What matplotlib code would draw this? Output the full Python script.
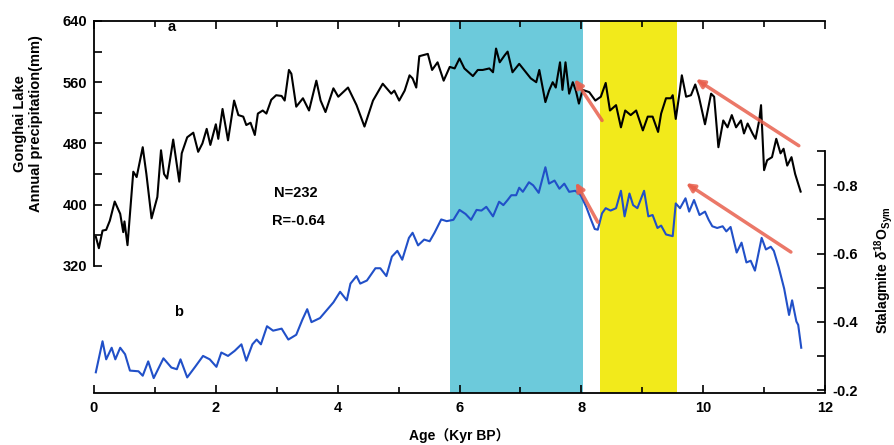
import matplotlib
matplotlib.use('Agg')
import matplotlib.pyplot as plt
from matplotlib.ticker import MultipleLocator, FixedLocator

plt.rcParams['font.family'] = ['Liberation Sans', 'Noto Sans CJK SC', 'DejaVu Sans']
plt.rcParams['font.weight'] = 'bold'
plt.rcParams['mathtext.fontset'] = 'custom'
plt.rcParams['mathtext.rm'] = 'Liberation Sans:bold'
plt.rcParams['mathtext.it'] = 'Liberation Sans:italic:bold'

# Gonghai Lake annual precipitation (mm) vs age (kyr BP)
precip_age = [0.03, 0.08, 0.14, 0.20, 0.26, 0.34, 0.43, 0.48, 0.50, 0.55, 0.645, 0.70, 0.80, 0.86,
              0.945, 1.04, 1.10, 1.15, 1.20, 1.30, 1.40, 1.44, 1.53, 1.63, 1.71, 1.78, 1.85, 1.91,
              2.00, 2.04, 2.11, 2.20, 2.30, 2.37, 2.45, 2.50, 2.57, 2.64, 2.69, 2.77, 2.83, 2.91,
              2.99, 3.08, 3.13, 3.20, 3.24, 3.32, 3.43, 3.53, 3.65, 3.72, 3.80, 3.93, 4.01, 4.17,
              4.31, 4.44, 4.58, 4.74, 4.88, 4.93, 5.01, 5.10, 5.18, 5.23, 5.29, 5.34, 5.48, 5.55,
              5.64, 5.74, 5.84, 5.92, 6.00, 6.08, 6.22, 6.30, 6.38, 6.49, 6.55, 6.60, 6.66, 6.74,
              6.79, 6.87, 6.98, 7.06, 7.17, 7.26, 7.31, 7.41, 7.47, 7.53, 7.58, 7.65, 7.69, 7.74,
              7.80, 7.86, 7.91, 7.96, 8.02, 8.13, 8.23, 8.32, 8.40, 8.47, 8.57, 8.65, 8.72, 8.81,
              8.90, 9.01, 9.09, 9.17, 9.26, 9.31, 9.39, 9.47, 9.50, 9.55, 9.61, 9.65, 9.72, 9.80,
              9.87, 9.93, 10.03, 10.13, 10.18, 10.25, 10.33, 10.40, 10.47, 10.54, 10.62, 10.67,
              10.73, 10.81, 10.86, 10.92, 10.95, 11.00, 11.05, 11.13, 11.20, 11.27, 11.32, 11.38,
              11.45, 11.51, 11.60]
precip = [358, 343, 366, 367, 379, 404, 388, 364, 378, 347, 443, 436, 475, 440,
          382, 410, 471, 440, 434, 485, 430, 467, 488, 494, 469, 480, 499, 478,
          505, 486, 525, 484, 536, 517, 515, 504, 507, 491, 519, 523, 519, 537,
          543, 542, 536, 576, 571, 528, 539, 523, 562, 536, 521, 552, 541, 553,
          530, 502, 536, 558, 545, 549, 536, 549, 569, 565, 553, 594, 597, 576,
          586, 562, 580, 578, 591, 578, 568, 576, 576, 578, 573, 604, 586, 595,
          600, 573, 584, 576, 565, 560, 576, 534, 549, 560, 553, 586, 550, 586,
          545, 560, 549, 532, 550, 547, 536, 541, 559, 523, 530, 501, 523, 517,
          523, 497, 515, 515, 495, 519, 539, 539, 543, 512, 545, 569, 541, 543,
          557, 541, 505, 545, 541, 475, 510, 501, 517, 501, 510, 493,
          506, 493, 486, 510, 530, 445, 458, 462, 486, 467, 473, 451,
          462, 440, 417]

# Stalagmite d18O (synthesized) vs age
d18o_age = [0.03, 0.14, 0.20, 0.29, 0.35, 0.43, 0.51, 0.59, 0.73, 0.80, 0.89, 0.98, 1.14, 1.27,
            1.36, 1.42, 1.53, 1.66, 1.79, 1.90, 2.01, 2.09, 2.20, 2.31, 2.42, 2.50, 2.60, 2.67,
            2.74, 2.84, 2.94, 3.08, 3.19, 3.32, 3.42, 3.50, 3.57, 3.71, 3.82, 3.93, 4.04, 4.15,
            4.21, 4.31, 4.37, 4.48, 4.62, 4.70, 4.80, 4.89, 4.98, 5.06, 5.17, 5.23, 5.32, 5.42,
            5.51, 5.59, 5.70, 5.79, 5.90, 6.00, 6.10, 6.19, 6.28, 6.36, 6.44, 6.55, 6.65, 6.72,
            6.79, 6.85, 6.93, 6.98, 7.04, 7.14, 7.21, 7.30, 7.41, 7.47, 7.56, 7.64, 7.72, 7.80,
            7.90, 7.99, 8.08, 8.16, 8.22, 8.27, 8.34, 8.40, 8.48, 8.57, 8.65, 8.71, 8.79, 8.85,
            8.92, 9.03, 9.10, 9.17, 9.25, 9.31, 9.39, 9.50, 9.55, 9.62, 9.71, 9.77, 9.85, 9.94,
            10.03, 10.09, 10.15, 10.23, 10.32, 10.38, 10.45, 10.55, 10.63, 10.71, 10.78, 10.85,
            10.96, 11.03, 11.11, 11.16, 11.24, 11.33, 11.41, 11.46, 11.53, 11.56, 11.61]
d18o = [-0.252, -0.343, -0.290, -0.324, -0.290, -0.324, -0.305, -0.257, -0.255, -0.242, -0.284,
        -0.235, -0.293, -0.266, -0.261, -0.290, -0.237, -0.268, -0.300, -0.290, -0.268, -0.310,
        -0.300, -0.315, -0.334, -0.286, -0.334, -0.348, -0.334, -0.387, -0.374, -0.380, -0.348,
        -0.362, -0.406, -0.437, -0.399, -0.411, -0.434, -0.457, -0.488, -0.463, -0.512, -0.534,
        -0.512, -0.521, -0.557, -0.557, -0.534, -0.591, -0.608, -0.582, -0.646, -0.661, -0.624,
        -0.641, -0.636, -0.661, -0.700, -0.695, -0.699, -0.728, -0.716, -0.699, -0.728, -0.726,
        -0.737, -0.709, -0.752, -0.742, -0.757, -0.771, -0.771, -0.793, -0.781, -0.809, -0.800,
        -0.778, -0.853, -0.805, -0.814, -0.790, -0.805, -0.781, -0.784, -0.771, -0.737, -0.699,
        -0.672, -0.670, -0.718, -0.733, -0.726, -0.733, -0.784, -0.709, -0.776, -0.742, -0.733,
        -0.784, -0.709, -0.713, -0.675, -0.682, -0.656, -0.651, -0.747, -0.733, -0.762, -0.723,
        -0.757, -0.713, -0.723, -0.699, -0.680, -0.675, -0.680, -0.665, -0.678, -0.603, -0.632,
        -0.574, -0.579, -0.550, -0.646, -0.612, -0.620, -0.608, -0.560, -0.497, -0.420, -0.463,
        -0.401, -0.391, -0.324]

# shaded intervals (kyr BP)
cyan_band = (5.85, 8.03)
yellow_band = (8.30, 9.57)

# arrows: (tail age, tail mm), (head age, head mm) on precipitation scale
arrows = [((8.34, 510), (7.89, 564)),
          ((11.57, 477), (9.88, 564)),
          ((8.27, 377), (7.91, 429)),
          ((11.44, 338), (9.72, 428))]

fig = plt.figure(figsize=(8.94, 4.45), dpi=100)
ax1 = fig.add_axes([94 / 894, 52 / 445, 731 / 894, 372 / 445])
ax2 = ax1.twinx()

ax1.axvspan(*cyan_band, color='#6ccadb', lw=0, zorder=0)
ax1.axvspan(*yellow_band, color='#f2ea1b', lw=0, zorder=0)

ax1.plot(precip_age, precip, color='black', lw=1.5, zorder=3)
ax2.plot(d18o_age, d18o, color='#2150c8', lw=1.5, zorder=3)

ax1.set_xlim(0, 12)
ax1.set_ylim(640 - 372 / 0.765, 640)
ax2.set_ylim(-0.2 + 3 / 346.7, -0.2 - 375 / 346.7)

ax1.spines['right'].set_visible(False)
for sp in ['left', 'top', 'bottom']:
    ax2.spines[sp].set_visible(False)
ax1.spines['left'].set_bounds(320, 640)
ax2.spines['right'].set_bounds(-0.9, -0.2)
for sp in ax1.spines.values():
    sp.set_linewidth(1.3)
ax2.spines['right'].set_linewidth(1.3)

ax1.xaxis.set_major_locator(MultipleLocator(2))
ax1.xaxis.set_minor_locator(MultipleLocator(1))
ax1.yaxis.set_major_locator(FixedLocator([320, 400, 480, 560, 640]))
ax1.yaxis.set_minor_locator(FixedLocator([360, 440, 520, 600]))
ax2.yaxis.set_major_locator(FixedLocator([-0.8, -0.6, -0.4, -0.2]))
ax2.yaxis.set_minor_locator(FixedLocator([-0.9, -0.7, -0.5, -0.3]))
ax2.set_yticklabels(['-0.8', '-0.6', '-0.4', '-0.2'])

ax1.tick_params(axis='x', which='both', direction='in', top=True, width=1.2, labelsize=10.5, pad=6)
ax1.tick_params(axis='x', which='major', length=6)
ax1.tick_params(axis='x', which='minor', length=4)
ax1.tick_params(axis='y', which='both', direction='in', length=6, width=1.2, labelsize=10.5, pad=5)
ax2.tick_params(axis='y', which='both', direction='in', length=6, width=1.2, labelsize=10.5, pad=5)

ax1.set_xlabel('Age（Kyr BP）', fontsize=10, fontweight='bold', labelpad=9)
ax1.set_ylabel('Gonghai Lake\nAnnual precipitation(mm)', fontsize=10.5, fontweight='bold')
ax1.yaxis.set_label_coords(-0.07, 0.725)
ax2.set_ylabel(r'Stalagmite $\delta^{18}$O$_{\rm Sym}$', fontsize=10, fontweight='bold')
ax2.yaxis.set_label_coords(1.065, 0.33)

ax1.text(1.28, 632, 'a', fontsize=10.5, fontweight='bold', ha='center', va='center')
ax1.text(1.38, 260, 'b', fontsize=10.5, fontweight='bold', ha='center', va='center')
ax1.text(3.32, 415, 'N=232', fontsize=10.5, fontweight='bold', ha='center', va='center')
ax1.text(3.36, 378, 'R=-0.64', fontsize=10.5, fontweight='bold', ha='center', va='center')

for tail, head in arrows:
    ax2.annotate('', xy=head, xytext=tail, xycoords=ax1.transData, textcoords=ax1.transData,
                 arrowprops=dict(arrowstyle='-|>', color='#e8604e', alpha=0.85, lw=2.5,
                                 mutation_scale=12, shrinkA=0, shrinkB=0), zorder=5)

fig.savefig('out.png', dpi=100)
